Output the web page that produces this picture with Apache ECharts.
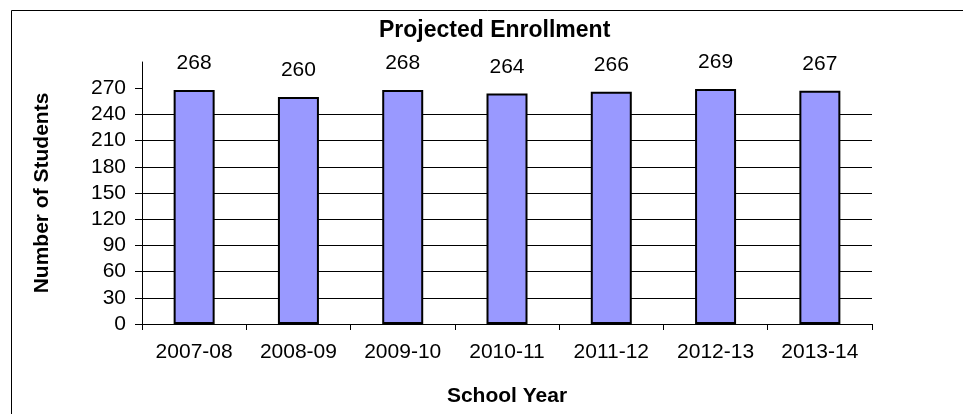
<!DOCTYPE html>
<html>
<head>
<meta charset="utf-8">
<script src="https://cdn.jsdelivr.net/npm/echarts@6/dist/echarts.min.js"></script>
<style>
html,body{margin:0;padding:0;background:#fff;}
#chart{width:963px;height:414px;}
</style>
</head>
<body>
<div id="chart"></div>
<script>
const categories = ['2007-08','2008-09','2009-10','2010-11','2011-12','2012-13','2013-14'];
const enrollment = [268,260,268,264,266,269,267];
const yTicks = [0,30,60,90,120,150,180,210,240,270];
const chartTitle = 'Projected Enrollment';
const xTitle = 'School Year';
const yTitle = 'Number of Students';

const FONT = '"Liberation Sans", Arial, sans-serif';
const chart = echarts.init(document.getElementById('chart'), null, {renderer:'canvas'});
chart.setOption({
  animation: false,
  backgroundColor: '#ffffff',
  graphic: [{
    type: 'rect', left: 9, top: 8, silent: true,
    shape: {width: 1000, height: 500},
    style: {fill: 'none', stroke: '#000', lineWidth: 1}
  }],
  title: {
    text: chartTitle, left: 374, top: 14,
    textStyle: {fontFamily: FONT, fontSize: 23, fontWeight: 'bold', color: '#000'}
  },
  grid: {left: 142, top: 62, right: 91, bottom: 90, containLabel: false},
  xAxis: {
    type: 'category', data: categories, boundaryGap: true,
    name: xTitle, nameLocation: 'middle', nameGap: 62,
    nameTextStyle: {fontFamily: FONT, fontSize: 21, fontWeight: 'bold', color: '#000'},
    axisLine: {show: true, lineStyle: {color: '#000', width: 1}},
    axisTick: {show: true, alignWithLabel: false, length: 6, lineStyle: {color: '#000'}},
    axisLabel: {fontFamily: FONT, fontSize: 21, color: '#000', margin: 18, interval: 0},
    splitLine: {show: false}
  },
  yAxis: {
    type: 'value', min: 0, max: 300, interval: 30,
    name: yTitle, nameLocation: 'middle', nameGap: 89, nameRotate: 90,
    nameTextStyle: {fontFamily: FONT, fontSize: 21, fontWeight: 'bold', color: '#000'},
    axisLine: {show: true, lineStyle: {color: '#000', width: 1}},
    axisTick: {show: true, length: 7, customValues: yTicks, lineStyle: {color: '#000'}},
    axisLabel: {fontFamily: FONT, fontSize: 21, color: '#000', margin: 16, customValues: yTicks},
    splitLine: {show: true, showMinLine: false, showMaxLine: false, lineStyle: {color: '#000', width: 1}}
  },
  series: [{
    type: 'bar', data: enrollment, barWidth: 41,
    itemStyle: {color: '#9999FF', borderColor: '#000', borderWidth: 2},
    label: {show: true, position: 'top', distance: 16, fontFamily: FONT, fontSize: 21, color: '#000'}
  }]
});
</script>
</body>
</html>
